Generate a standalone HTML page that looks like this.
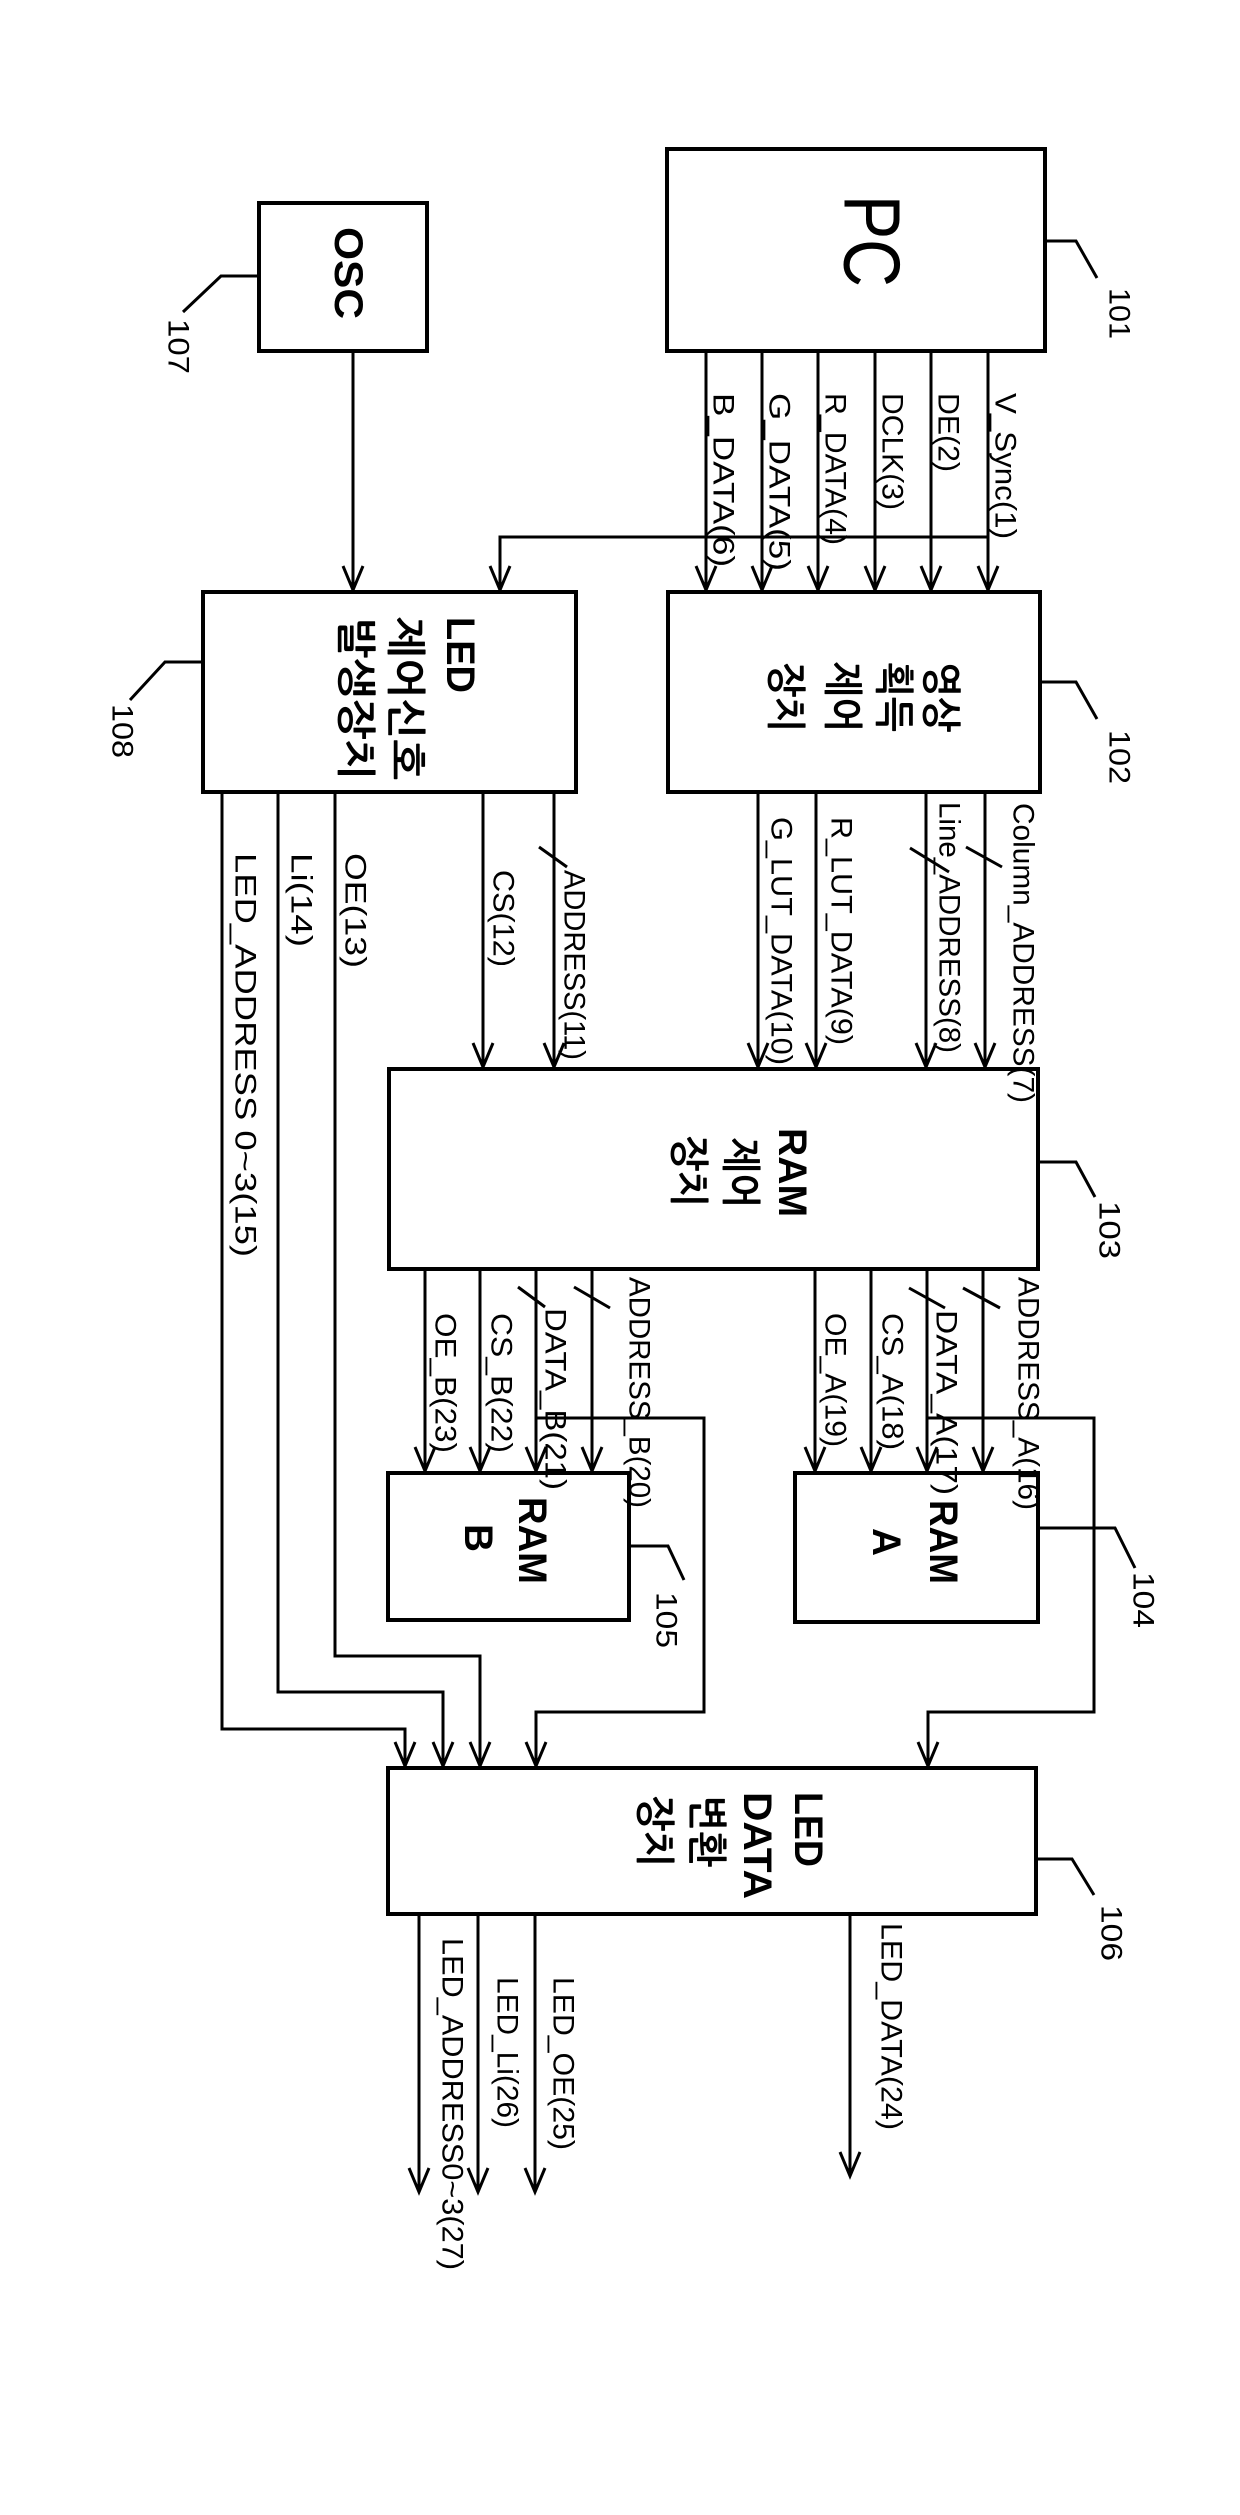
<!DOCTYPE html>
<html><head><meta charset="utf-8"><style>
html,body{margin:0;padding:0;background:#fff;}
svg{display:block}
text{font-family:"Liberation Sans","NanumGothic","Noto Sans CJK KR",sans-serif;fill:#000;dominant-baseline:central;}
.s{font-size:30px}
.b{font-size:40px;font-weight:bold}
</style></head><body>
<svg width="1240" height="2515" viewBox="0 0 1240 2515" xmlns="http://www.w3.org/2000/svg">
<g fill="none" stroke="#000" stroke-width="4">
<rect x="667" y="149" width="378" height="202"/>
<rect x="259" y="203" width="168" height="148"/>
<rect x="668" y="592" width="372" height="200"/>
<rect x="203" y="592" width="373" height="200"/>
<rect x="389" y="1069" width="649" height="200"/>
<rect x="795" y="1473" width="243" height="149"/>
<rect x="388" y="1473" width="241" height="147"/>
<rect x="388" y="1768" width="648" height="146"/>
</g>
<g fill="none" stroke="#000" stroke-width="3">
<path d="M706 351V590M762 351V590M818 351V590M875 351V590M931 351V590M988 351V590"/>
<path d="M988 537H500V590"/>
<path d="M353 351V590"/>
<path d="M758 792V1067M816 792V1067M926 792V1067M985 792V1067"/>
<path d="M483 792V1067M554 792V1067"/>
<path d="M335 792V1656H480V1766M278 792V1692H443V1766M222 792V1729H405V1766"/>
<path d="M425 1269V1471M480 1269V1471M536 1269V1471M592 1269V1471"/>
<path d="M815 1269V1471M871 1269V1471M927 1269V1471M983 1269V1471"/>
<path d="M536 1418H704V1712H536V1766"/>
<path d="M927 1418H1094V1712H928V1766"/>
<path d="M419 1914V2192M478 1914V2192M535 1914V2192M850 1914V2176"/>
<path d="M696 566L706 590L716 566M752 566L762 590L772 566M808 566L818 590L828 566M865 566L875 590L885 566M921 566L931 590L941 566M978 566L988 590L998 566M490 566L500 590L510 566M343 566L353 590L363 566"/>
<path d="M748 1043L758 1067L768 1043M806 1043L816 1067L826 1043M916 1043L926 1067L936 1043M975 1043L985 1067L995 1043M473 1043L483 1067L493 1043M544 1043L554 1067L564 1043"/>
<path d="M415 1447L425 1471L435 1447M470 1447L480 1471L490 1447M526 1447L536 1471L546 1447M582 1447L592 1471L602 1447M805 1447L815 1471L825 1447M861 1447L871 1471L881 1447M917 1447L927 1471L937 1447M973 1447L983 1471L993 1447"/>
<path d="M470 1742L480 1766L490 1742M433 1742L443 1766L453 1742M395 1742L405 1766L415 1742M526 1742L536 1766L546 1742M918 1742L928 1766L938 1742"/>
<path d="M409 2168L419 2192L429 2168M468 2168L478 2192L488 2168M525 2168L535 2192L545 2168M840 2152L850 2176L860 2152"/>
<path d="M966 847L1002 867M910 848L949 872M539 847L567 867"/>
<path d="M518 1287L545 1307M574 1287L610 1308M909 1288L945 1308M963 1288L1000 1308"/>
<path d="M1045 241H1076L1097 278M259 276H221L183 312M1040 682H1076L1097 719M203 662H165L130 700M1038 1162H1076L1095 1197M1038 1528H1115L1135 1568M629 1546H668L684 1580M1036 1859H1072L1094 1895"/>
</g>

<text transform="translate(872,195) rotate(90)" style="font-size:80px" textLength="92" lengthAdjust="spacingAndGlyphs">PC</text>
<text class="b" transform="translate(348,227) rotate(90)" textLength="92" lengthAdjust="spacingAndGlyphs">OSC</text>
<text class="b" transform="translate(940,662) rotate(90)" textLength="70" lengthAdjust="spacingAndGlyphs">영상</text>
<text class="b" transform="translate(893,662) rotate(90)" textLength="70" lengthAdjust="spacingAndGlyphs">획득</text>
<text class="b" transform="translate(842,662) rotate(90)" textLength="70" lengthAdjust="spacingAndGlyphs">제어</text>
<text class="b" transform="translate(785,662) rotate(90)" textLength="70" lengthAdjust="spacingAndGlyphs">장치</text>
<text class="b" transform="translate(460,617) rotate(90)" textLength="76" lengthAdjust="spacingAndGlyphs">LED</text>
<text class="b" transform="translate(405,617) rotate(90)" textLength="163" lengthAdjust="spacingAndGlyphs">제어신호</text>
<text class="b" transform="translate(355,617) rotate(90)" textLength="163" lengthAdjust="spacingAndGlyphs">발생장치</text>
<text class="b" transform="translate(792,1128) rotate(90)" textLength="89" lengthAdjust="spacingAndGlyphs">RAM</text>
<text class="b" transform="translate(740,1138) rotate(90)" textLength="70" lengthAdjust="spacingAndGlyphs">제어</text>
<text class="b" transform="translate(688,1135) rotate(90)" textLength="72" lengthAdjust="spacingAndGlyphs">장치</text>
<text class="b" transform="translate(943,1500) rotate(90)" textLength="84" lengthAdjust="spacingAndGlyphs">RAM</text>
<text class="b" transform="translate(886,1528) rotate(90)" textLength="28" lengthAdjust="spacingAndGlyphs">A</text>
<text class="b" transform="translate(532,1497) rotate(90)" textLength="87" lengthAdjust="spacingAndGlyphs">RAM</text>
<text class="b" transform="translate(478,1524) rotate(90)" textLength="28" lengthAdjust="spacingAndGlyphs">B</text>
<text class="b" transform="translate(808,1792) rotate(90)" textLength="75" lengthAdjust="spacingAndGlyphs">LED</text>
<text class="b" transform="translate(757,1792) rotate(90)" textLength="107" lengthAdjust="spacingAndGlyphs">DATA</text>
<text class="b" transform="translate(706,1795) rotate(90)" textLength="72" lengthAdjust="spacingAndGlyphs">변환</text>
<text class="b" transform="translate(654,1795) rotate(90)" textLength="72" lengthAdjust="spacingAndGlyphs">장치</text>

<g class="s">
<text transform="translate(1119,288) rotate(90)" textLength="51" lengthAdjust="spacingAndGlyphs">101</text>
<text transform="translate(178,319) rotate(90)" textLength="55" lengthAdjust="spacingAndGlyphs">107</text>
<text transform="translate(1119,730) rotate(90)" textLength="54" lengthAdjust="spacingAndGlyphs">102</text>
<text transform="translate(122,704) rotate(90)" textLength="54" lengthAdjust="spacingAndGlyphs">108</text>
<text transform="translate(1109,1201) rotate(90)" textLength="58" lengthAdjust="spacingAndGlyphs">103</text>
<text transform="translate(1143,1572) rotate(90)" textLength="56" lengthAdjust="spacingAndGlyphs">104</text>
<text transform="translate(666,1592) rotate(90)" textLength="56" lengthAdjust="spacingAndGlyphs">105</text>
<text transform="translate(1111,1905) rotate(90)" textLength="56" lengthAdjust="spacingAndGlyphs">106</text>
</g>

<g class="s" transform="translate(3,0)">
<text transform="translate(1002,393) rotate(90)" textLength="146" lengthAdjust="spacingAndGlyphs">V_Sync(1)</text>
<text transform="translate(945,393) rotate(90)" textLength="79" lengthAdjust="spacingAndGlyphs">DE(2)</text>
<text transform="translate(889,393) rotate(90)" textLength="117" lengthAdjust="spacingAndGlyphs">DCLK(3)</text>
<text transform="translate(832,393) rotate(90)" textLength="152" lengthAdjust="spacingAndGlyphs">R_DATA(4)</text>
<text transform="translate(776,393) rotate(90)" textLength="178" lengthAdjust="spacingAndGlyphs">G_DATA(5)</text>
<text transform="translate(720,393) rotate(90)" textLength="174" lengthAdjust="spacingAndGlyphs">B_DATA(6)</text>

<text transform="translate(1020,803) rotate(90)" textLength="300" lengthAdjust="spacingAndGlyphs">Column_ADDRESS(7)</text>
<text transform="translate(946,802) rotate(90)" textLength="251" lengthAdjust="spacingAndGlyphs">Line_ADDRESS(8)</text>
<text transform="translate(838,817) rotate(90)" textLength="228" lengthAdjust="spacingAndGlyphs">R_LUT_DATA(9)</text>
<text transform="translate(778,817) rotate(90)" textLength="248" lengthAdjust="spacingAndGlyphs">G_LUT_DATA(10)</text>
<text transform="translate(571,870) rotate(90)" textLength="190" lengthAdjust="spacingAndGlyphs">ADDRESS(11)</text>
<text transform="translate(500,870) rotate(90)" textLength="97" lengthAdjust="spacingAndGlyphs">CS(12)</text>
<text transform="translate(352,853) rotate(90)" textLength="115" lengthAdjust="spacingAndGlyphs">OE(13)</text>
<text transform="translate(298,853) rotate(90)" textLength="94" lengthAdjust="spacingAndGlyphs">Li(14)</text>
<text transform="translate(242,853) rotate(90)" textLength="404" lengthAdjust="spacingAndGlyphs">LED_ADDRESS 0~3(15)</text>

<text transform="translate(442,1313) rotate(90)" textLength="140" lengthAdjust="spacingAndGlyphs">OE_B(23)</text>
<text transform="translate(498,1313) rotate(90)" textLength="140" lengthAdjust="spacingAndGlyphs">CS_B(22)</text>
<text transform="translate(552,1308) rotate(90)" textLength="182" lengthAdjust="spacingAndGlyphs">DATA_B(21)</text>
<text transform="translate(636,1277) rotate(90)" textLength="231" lengthAdjust="spacingAndGlyphs">ADDRESS_B(20)</text>
<text transform="translate(832,1313) rotate(90)" textLength="134" lengthAdjust="spacingAndGlyphs">OE_A(19)</text>
<text transform="translate(889,1313) rotate(90)" textLength="137" lengthAdjust="spacingAndGlyphs">CS_A(18)</text>
<text transform="translate(943,1310) rotate(90)" textLength="185" lengthAdjust="spacingAndGlyphs">DATA_A(17)</text>
<text transform="translate(1025,1277) rotate(90)" textLength="233" lengthAdjust="spacingAndGlyphs">ADDRESS_A(16)</text>

<text transform="translate(888,1923) rotate(90)" textLength="207" lengthAdjust="spacingAndGlyphs">LED_DATA(24)</text>
<text transform="translate(560,1977) rotate(90)" textLength="173" lengthAdjust="spacingAndGlyphs">LED_OE(25)</text>
<text transform="translate(504,1977) rotate(90)" textLength="151" lengthAdjust="spacingAndGlyphs">LED_Li(26)</text>
<text transform="translate(449,1938) rotate(90)" textLength="332" lengthAdjust="spacingAndGlyphs">LED_ADDRESS0~3(27)</text>
</g>
</svg>
</body></html>
